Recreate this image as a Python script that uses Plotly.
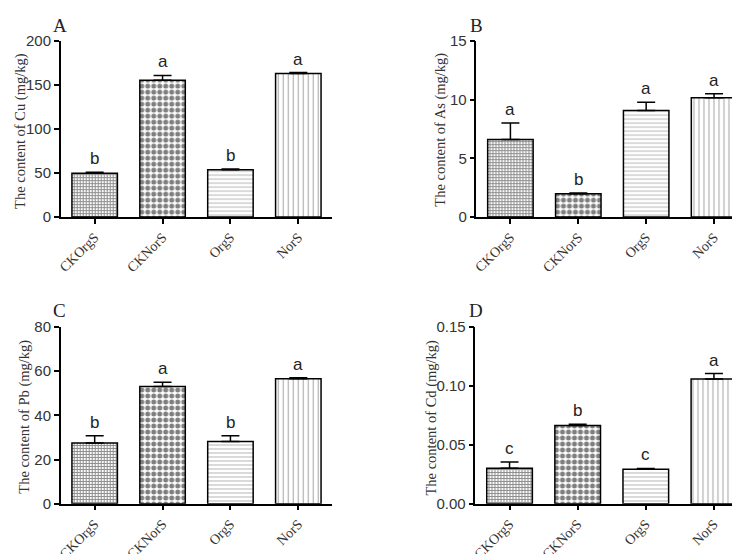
import plotly.graph_objects as go

categories = ["CKOrgS", "CKNorS", "OrgS", "NorS"]

cu_values = [49.6, 155.5, 53.6, 163.2]
cu_errors = [1.2, 5.5, 0.8, 1.0]
cu_letters = ["b", "a", "b", "a"]

as_values = [6.6, 1.98, 9.08, 10.16]
as_errors = [1.42, 0.05, 0.7, 0.35]
as_letters = ["a", "b", "a", "a"]

pb_values = [27.5, 53.1, 28.2, 56.6]
pb_errors = [3.3, 1.9, 2.6, 0.4]
pb_letters = ["b", "a", "b", "a"]

cd_values = [0.0302, 0.0664, 0.0293, 0.1058]
cd_errors = [0.0052, 0.0011, 0.0006, 0.0047]
cd_letters = ["c", "b", "c", "a"]

panels = [
    dict(name="A", vals=cu_values, errs=cu_errors, letters=cu_letters,
         title="The content of Cu (mg/kg)", rng=[0, 200], dtick=50, fmt=None),
    dict(name="B", vals=as_values, errs=as_errors, letters=as_letters,
         title="The content of As (mg/kg)", rng=[0, 15], dtick=5, fmt=None),
    dict(name="C", vals=pb_values, errs=pb_errors, letters=pb_letters,
         title="The content of Pb (mg/kg)", rng=[0, 80], dtick=20, fmt=None),
    dict(name="D", vals=cd_values, errs=cd_errors, letters=cd_letters,
         title="The content of Cd (mg/kg)", rng=[0, 0.15], dtick=0.05, fmt=".2f"),
]

W, H = 740, 554
# pixel layout of each panel: (x0, x1, ytop, ybottom)
boxes = [(49, 322, 25, 207), (467, 740, 25, 207), (49, 322, 321, 504), (466, 740, 321, 504)]
title_pos = [(9, 118), (431, 117), (13, 414), (422, 415)]
label_pos = [(48, 9), (467, 9), (48, 304), (467, 304)]

patterns = [
    dict(shape="+", size=3, solidity=0.6, fgcolor="#222222"),
    dict(shape=".", size=6, solidity=0.55, fgcolor="black"),
    dict(shape="-", size=4, solidity=0.22, fgcolor="#555555"),
    dict(shape="|", size=5, solidity=0.22, fgcolor="#555555"),
]

fig = go.Figure()
annotations = []
for i, p in enumerate(panels):
    ax = "" if i == 0 else str(i + 1)
    x0, x1, yt, yb = boxes[i]
    fig.add_trace(go.Bar(
        x=categories, y=p["vals"],
        xaxis="x" + ax, yaxis="y" + ax,
        width=0.67,
        marker=dict(color="white", line=dict(color="black", width=1.5),
                    pattern=dict(shape=[pt["shape"] for pt in patterns],
                                 size=[pt["size"] for pt in patterns],
                                 solidity=[pt["solidity"] for pt in patterns],
                                 fgcolor=[pt["fgcolor"] for pt in patterns],
                                 bgcolor="white", fillmode="overlay")),
        error_y=dict(type="data", array=p["errs"], arrayminus=[0] * 4,
                     symmetric=False, color="black", thickness=1.5, width=9),
        showlegend=False,
    ))
    fig.update_layout(**{
        "xaxis" + ax: dict(domain=[x0 / W, x1 / W], anchor="y" + ax,
                           range=[-0.5, 3.5], showline=True, linecolor="black",
                           linewidth=1.5, ticks="outside", ticklen=5, tickwidth=1.5,
                           tickcolor="black", tickangle=-45, showgrid=False,
                           tickfont=dict(family="Liberation Serif", size=14, color="#333333")),
        "yaxis" + ax: dict(domain=[1 - yb / H, 1 - yt / H], anchor="x" + ax,
                           range=p["rng"], dtick=p["dtick"], tick0=0,
                           tickformat=p["fmt"], showline=True, linecolor="black",
                           linewidth=1.5, ticks="outside", ticklen=5, tickwidth=1.5,
                           tickcolor="black", showgrid=False, zeroline=False,
                           tickfont=dict(family="Liberation Sans", size=15, color="#333333")),
    })
    for c, v, e, l in zip(categories, p["vals"], p["errs"], p["letters"]):
        annotations.append(dict(x=c, y=v + e, xref="x" + ax, yref="y" + ax,
                                text=l, showarrow=False, yanchor="bottom", yshift=2,
                                font=dict(family="Liberation Sans", size=17, color="#222222")))
    tx, ty = title_pos[i]
    annotations.append(dict(x=tx / W, y=1 - ty / H, xref="paper", yref="paper",
                            text=p["title"], textangle=-90, showarrow=False,
                            xanchor="center", yanchor="middle",
                            font=dict(family="Liberation Serif", size=14.5, color="#333333")))
    lx, ly = label_pos[i]
    annotations.append(dict(x=lx / W, y=1 - ly / H, xref="paper", yref="paper",
                            text=p["name"], showarrow=False,
                            xanchor="center", yanchor="middle",
                            font=dict(family="Liberation Serif", size=19, color="#222222")))

fig.update_layout(width=W, height=H, margin=dict(l=0, r=0, t=0, b=0),
                  plot_bgcolor="white", paper_bgcolor="white",
                  annotations=annotations, bargap=0.33)
fig.write_html("out.html")
